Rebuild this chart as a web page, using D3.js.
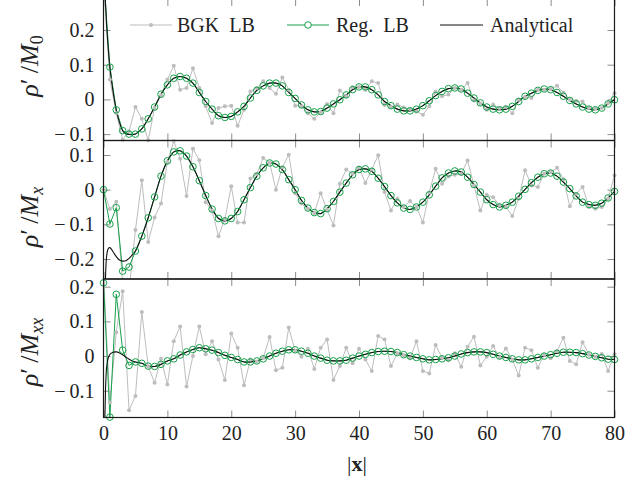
<!DOCTYPE html>
<html lang="en">
<head>
<meta charset="utf-8">
<title>rho' / M vs |x|</title>
<script src="https://cdn.jsdelivr.net/npm/d3@7"></script>
<style>
  body { margin: 0; background: #fff; }
  text { font-family: "Liberation Serif", "Times New Roman", serif; fill: #222; }
</style>
</head>
<body>
<script>

// lattice positions |x| = 0..80
const xValues = d3.range(0, 81);
const xTicks = [0, 10, 20, 30, 40, 50, 60, 70, 80];

// y tick labels of the three panels
const ticksM0 = [-0.1, 0, 0.1, 0.2];
const ticksMx = [-0.2, -0.1, 0, 0.1];
const ticksMxx = [-0.1, 0, 0.1, 0.2];

// ---- panel 1 : rho'/M0 ----
const bgkM0 = [0.34, 0.057, -0.040, -0.116, -0.092, -0.022, -0.056, -0.118, -0.025, 0.012,
  0.057, 0.097, 0.028, 0.033, 0.090, 0.033, -0.020, -0.068, -0.025, -0.020,
  -0.018, -0.076, -0.030, 0.023, 0.033, 0.052, 0.033, 0.016, 0.063, 0.028,
  -0.018, -0.020, -0.040, -0.056, -0.037, -0.013, -0.040, 0.026, 0.009, 0.035,
  0.036, 0.028, 0.052, 0.047, -0.016, -0.022, -0.015, -0.023, -0.028, -0.035,
  -0.044, -0.020, 0.023, 0.009, 0.014, 0.033, 0.028, 0.047, -0.003, -0.012,
  -0.030, -0.015, -0.025, -0.022, -0.040, -0.001, 0.007, 0.004, 0.028, 0.028,
  0.030, 0.039, 0.020, -0.001, -0.004, -0.006, -0.025, -0.028, -0.025, -0.010,
  0.018];
const regM0 = [0.36, 0.093, -0.030, -0.090, -0.100, -0.100, -0.085, -0.056, -0.022, 0.015,
  0.042, 0.061, 0.066, 0.061, 0.047, 0.020, -0.006, -0.028, -0.047, -0.052,
  -0.049, -0.036, -0.020, 0.004, 0.026, 0.039, 0.047, 0.047, 0.039, 0.020,
  0.003, -0.016, -0.030, -0.036, -0.035, -0.025, -0.013, -0.001, 0.013, 0.028,
  0.036, 0.036, 0.028, 0.013, -0.006, -0.018, -0.028, -0.033, -0.033, -0.028,
  -0.018, -0.004, 0.011, 0.023, 0.031, 0.033, 0.030, 0.018, 0.004, -0.010,
  -0.022, -0.028, -0.030, -0.028, -0.020, -0.006, 0.009, 0.018, 0.026, 0.030,
  0.028, 0.020, 0.009, -0.003, -0.013, -0.022, -0.028, -0.030, -0.025, -0.013,
  -0.001];

// ---- panel 2 : rho'/Mx ----
const bgkMx = [0.000, -0.056, -0.035, -0.270, -0.290, -0.116, 0.027, -0.151, -0.080, -0.040,
  0.080, 0.140, 0.089, -0.018, 0.118, 0.085, -0.036, -0.060, -0.134, -0.085,
  0.010, -0.095, -0.095, 0.032, 0.045, 0.091, 0.078, 0.000, 0.065, 0.101,
  -0.010, -0.040, -0.055, -0.067, -0.010, -0.058, -0.103, 0.017, 0.058, 0.046,
  0.064, 0.019, 0.058, 0.099, -0.007, -0.060, -0.026, -0.050, -0.033, -0.050,
  -0.095, -0.008, 0.060, 0.017, 0.038, 0.043, 0.045, 0.084, 0.012, -0.060,
  -0.015, -0.022, -0.045, -0.050, -0.076, -0.026, 0.056, 0.012, 0.008, 0.046,
  0.050, 0.063, 0.030, -0.048, -0.012, 0.008, -0.050, -0.055, -0.050, -0.026,
  0.041];
const regMx = [0.000, -0.099, -0.052, -0.235, -0.223, -0.177, -0.134, -0.081, -0.021, 0.039,
  0.083, 0.109, 0.112, 0.097, 0.066, 0.026, -0.017, -0.056, -0.083, -0.090,
  -0.083, -0.063, -0.029, 0.006, 0.039, 0.063, 0.077, 0.074, 0.058, 0.029,
  0.000, -0.031, -0.053, -0.066, -0.069, -0.055, -0.034, -0.007, 0.019, 0.043,
  0.058, 0.060, 0.053, 0.033, 0.009, -0.017, -0.038, -0.053, -0.057, -0.050,
  -0.036, -0.015, 0.010, 0.034, 0.048, 0.054, 0.051, 0.036, 0.015, -0.007,
  -0.029, -0.043, -0.050, -0.045, -0.036, -0.019, 0.001, 0.020, 0.036, 0.046,
  0.048, 0.039, 0.022, 0.003, -0.018, -0.036, -0.043, -0.045, -0.039, -0.024,
  -0.005];

// ---- panel 3 : rho'/Mxx ----
const bgkMxx = [0.240, -0.134, 0.069, 0.187, -0.156, -0.115, 0.127, -0.030, -0.077, -0.008,
  -0.082, 0.043, 0.085, -0.088, 0.000, 0.085, 0.005, 0.043, -0.010, -0.069,
  0.065, 0.024, -0.084, -0.010, -0.016, -0.006, 0.055, -0.041, -0.034, 0.082,
  0.015, -0.002, 0.021, -0.037, 0.024, 0.048, -0.069, -0.029, 0.024, -0.021,
  0.021, -0.010, -0.043, 0.058, 0.048, -0.029, 0.008, 0.002, -0.006, 0.043,
  -0.043, -0.050, 0.032, -0.005, -0.012, 0.008, -0.031, 0.027, 0.056, -0.027,
  -0.002, 0.029, -0.004, 0.022, -0.010, -0.056, 0.024, 0.017, -0.034, 0.004,
  -0.006, 0.014, 0.053, -0.014, -0.024, 0.040, 0.004, -0.002, 0.006, -0.043,
  0.005];
const regMxx = [0.211, -0.176, 0.178, 0.017, -0.027, -0.017, -0.021, -0.029, -0.030, -0.024,
  -0.014, -0.008, 0.003, 0.012, 0.019, 0.024, 0.021, 0.017, 0.010, 0.002,
  -0.004, -0.010, -0.017, -0.017, -0.014, -0.008, 0.000, 0.008, 0.014, 0.018,
  0.018, 0.014, 0.008, 0.000, -0.006, -0.012, -0.014, -0.014, -0.012, -0.006,
  0.000, 0.005, 0.010, 0.013, 0.014, 0.013, 0.010, 0.004, 0.000, -0.004,
  -0.008, -0.011, -0.010, -0.008, -0.005, 0.000, 0.006, 0.010, 0.012, 0.012,
  0.010, 0.005, 0.000, -0.004, -0.008, -0.011, -0.011, -0.008, -0.004, 0.000,
  0.004, 0.008, 0.011, 0.011, 0.010, 0.007, 0.003, -0.001, -0.005, -0.009,
  -0.010];

// analytical solution near the source (x < 5); further out it lies on the Reg. LB circles
const anaNearX = [0, 0.25, 0.5, 0.75, 1, 1.5, 2, 2.5, 3, 3.5, 4, 4.5];
const anaNearM0 = [0.42, 0.30, 0.21, 0.145, 0.093, 0.022, -0.030, -0.066, -0.090, -0.099, -0.101, -0.102];
const anaNearMx = [-0.70, -0.30, -0.19, -0.170, -0.167, -0.179, -0.193, -0.203, -0.206, -0.205, -0.198, -0.188];
const anaNearMxx = [-0.70, -0.15, -0.03, -0.005, 0.005, 0.011, 0.012, 0.009, 0.004, -0.003, -0.009, -0.014];

const legendLabels = ["BGK\u2002LB", "Reg.\u2002LB", "Analytical"];

//Width and height
let w = 625;
let h = 483;

let grey = "#bdbdbd";
let green = "#17a04a";

let svg = d3.select("body")
  .append("svg")
    .attr("width", w)
    .attr("height", h);

let x = d3.scaleLinear().domain([0, 80]).range([103.5, 614.5]);

// pixel extent + value domain of each panel
let panels = [
  { id: "p0", top: -1, bottom: 140.5, domain: [-0.1184, 0.2893], ticks: ticksM0,
    bgk: bgkM0, reg: regM0, near: anaNearM0, sub: "0", ly: 66 },
  { id: "p1", top: 140.5, bottom: 279, domain: [-0.2576, 0.1418], ticks: ticksMx,
    bgk: bgkMx, reg: regMx, near: anaNearMx, sub: "x", ly: 217 },
  { id: "p2", top: 279, bottom: 417.5, domain: [-0.1772, 0.2222], ticks: ticksMxx,
    bgk: bgkMxx, reg: regMxx, near: anaNearMxx, sub: "xx", ly: 352 }
];

// wide minus like the TeX original
let fmt = d => d === 0 ? "0" : (d < 0 ? "\u2212\u2009" : "") + d3.format(".1f")(Math.abs(d));

let defs = svg.append("defs");

panels.forEach((p, i) => {
  let y = d3.scaleLinear().domain(p.domain).range([p.bottom, p.top]);
  let g = svg.append("g");

  defs.append("clipPath").attr("id", "clip-" + p.id)
    .append("rect")
      .attr("x", x.range()[0]).attr("y", p.top)
      .attr("width", x.range()[1] - x.range()[0])
      .attr("height", p.bottom - p.top);

  // tick marks (inward) on all four sides
  let styleAxis = sel => {
    sel.select(".domain").remove();
    sel.selectAll(".tick line").attr("stroke", "#8c8c8c").attr("stroke-width", 1);
    sel.selectAll(".tick text")
      .style("font-family", "'Liberation Serif', serif")
      .style("font-size", "20px")
      .attr("fill", "#222");
  };

  g.append("g")
    .attr("transform", `translate(${x.range()[0]},0)`)
    .call(d3.axisLeft(y).tickValues(p.ticks).tickSize(-7).tickPadding(9).tickFormat(fmt))
    .call(styleAxis);

  g.append("g")
    .attr("transform", `translate(${x.range()[1]},0)`)
    .call(d3.axisRight(y).tickValues(p.ticks).tickSize(-7).tickFormat(""))
    .call(styleAxis);

  g.append("g")
    .attr("transform", `translate(0,${p.top})`)
    .call(d3.axisTop(x).tickValues(xTicks).tickSize(-7).tickFormat(""))
    .call(styleAxis);

  let last = i === panels.length - 1;
  g.append("g")
    .attr("transform", `translate(0,${p.bottom})`)
    .call(d3.axisBottom(x).tickValues(xTicks).tickSize(-7).tickPadding(8)
      .tickFormat(last ? d3.format("d") : ""))
    .call(styleAxis);

  let inside = v => v >= p.domain[0] - 0.005 && v <= p.domain[1] + 0.005;

  let plot = g.append("g").attr("clip-path", `url(#clip-${p.id})`);
  let line = d3.line().x(d => x(d[0])).y(d => y(d[1]));

  // BGK LB
  let bgkPts = xValues.map((xv, k) => [xv, p.bgk[k]]);
  plot.append("path")
    .attr("d", line(bgkPts))
    .attr("fill", "none").attr("stroke", grey).attr("stroke-width", 1);
  g.append("g").selectAll("circle")
    .data(bgkPts.filter(d => inside(d[1])))
    .enter()
  .append("circle")
    .attr("cx", d => x(d[0])).attr("cy", d => y(d[1]))
    .attr("r", 2).attr("fill", grey);

  // Reg. LB
  let regPts = xValues.map((xv, k) => [xv, p.reg[k]]);
  plot.append("path")
    .attr("d", line(regPts))
    .attr("fill", "none").attr("stroke", green).attr("stroke-width", 1);

  // Analytical
  let anaPts = anaNearX.map((xv, k) => [xv, p.near[k]])
    .concat(regPts.filter(d => d[0] >= 5));
  plot.append("path")
    .attr("d", line.curve(d3.curveCatmullRom.alpha(0.5))(anaPts))
    .attr("fill", "none").attr("stroke", "#111").attr("stroke-width", 1.1);

  g.append("g").selectAll("circle")
    .data(regPts.filter(d => inside(d[1])))
    .enter()
  .append("circle")
    .attr("cx", d => x(d[0])).attr("cy", d => y(d[1]))
    .attr("r", 3.3).attr("fill", "none")
    .attr("stroke", green).attr("stroke-width", 1);

  // frame
  g.append("rect")
    .attr("x", x.range()[0]).attr("y", p.top)
    .attr("width", x.range()[1] - x.range()[0])
    .attr("height", p.bottom - p.top)
    .attr("fill", "none").attr("stroke", "#1a1a1a").attr("stroke-width", 1.2);

  // y label  rho'/M_sub
  let lab = svg.append("text")
    .attr("transform", `translate(38,${p.ly}) rotate(-90)`)
    .attr("text-anchor", "middle")
    .style("font-size", "26px");
  lab.append("tspan").attr("font-style", "italic").text("ρ");
  lab.append("tspan").text("′\u2009/");
  lab.append("tspan").attr("font-style", "italic").text("M");
  lab.append("tspan").attr("font-style", p.sub === "0" ? "normal" : "italic")
    .attr("dy", 5).style("font-size", "18px").text(p.sub);
});

// x label |x|
let xl = svg.append("text")
  .attr("x", 357).attr("y", 471)
  .attr("text-anchor", "middle")
  .style("font-size", "22px");
xl.append("tspan").text("|");
xl.append("tspan").attr("font-weight", "bold").text("x");
xl.append("tspan").text("|");

// legend
let legY = 25;
let leg = svg.append("g");
let legItems = [
  { x1: 130, x2: 172, tx: 177, color: grey, mark: "dot" },
  { x1: 287, x2: 329, tx: 336, color: green, mark: "circle" },
  { x1: 440, x2: 483, tx: 490, color: "#111", mark: "none" }
];
legItems.forEach((it, k) => {
  leg.append("line")
    .attr("x1", it.x1).attr("x2", it.x2).attr("y1", legY).attr("y2", legY)
    .attr("stroke", it.color).attr("stroke-width", 1);
  let mx = (it.x1 + it.x2) / 2;
  if (it.mark === "dot") {
    leg.append("circle").attr("cx", mx).attr("cy", legY).attr("r", 2).attr("fill", it.color);
  } else if (it.mark === "circle") {
    leg.append("circle").attr("cx", mx).attr("cy", legY).attr("r", 3.3)
      .attr("fill", "#fff").attr("stroke", it.color).attr("stroke-width", 1);
  }
  leg.append("text")
    .attr("x", it.tx).attr("y", legY + 6.5)
    .style("font-size", "20px")
    .style("white-space", "pre")
    .text(legendLabels[k]);
});

</script>
</body>
</html>
